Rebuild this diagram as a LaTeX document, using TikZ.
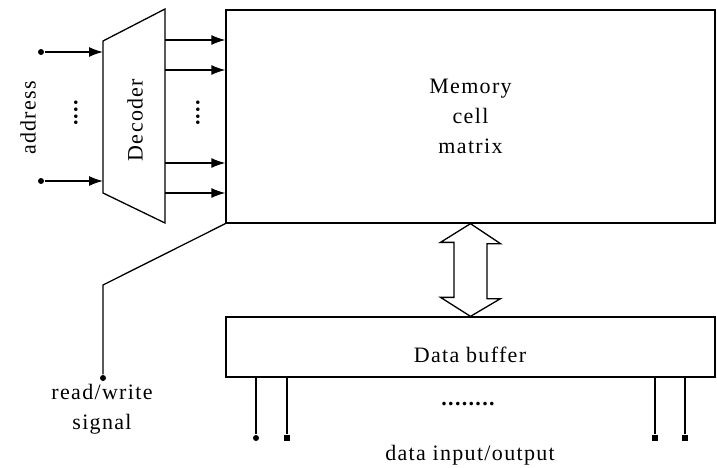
\documentclass[tikz,border=0pt]{standalone}
\usepackage{fontspec}
\setmainfont{Liberation Serif}[LetterSpace=6]
\usetikzlibrary{arrows.meta}
\begin{document}
\begin{tikzpicture}[x=1pt,y=-1pt,line width=1.3pt,
    lbl/.style={font=\fontsize{22}{30}\selectfont,inner sep=0pt,align=center},
    dots/.style={font=\fontsize{22}{30}\selectfont\bfseries,inner sep=0pt},
    wire/.style={-{Latex[length=14pt,width=10pt]}},
    pin/.style={circle,fill=black,inner sep=0pt,minimum size=6pt},
    sqpin/.style={rectangle,fill=black,inner sep=0pt,minimum size=6pt}]
  \useasboundingbox (0,0) rectangle (717,468);
  \node[draw,lbl,minimum width=489pt,minimum height=213pt] (mem) at (470.5,116.5) {Memory\\cell\\matrix};
  \node[draw,minimum width=489pt,minimum height=60pt,inner sep=0pt] (buf) at (470.5,347) {};
  \node[lbl]                (buft)  at (470,355)  {Data buffer};
  % decoder outline
  \coordinate (dec1) at (103,41);
  \coordinate (dec2) at (165,9);
  \coordinate (dec3) at (165,223);
  \coordinate (dec4) at (103,193);
  \draw (dec1) -- (dec2) -- (dec3) -- (dec4) -- cycle;
  \node[lbl,rotate=90]      (dect)  at (135,120)  {Decoder};
  % address lines
  \node[lbl,rotate=90]      (addr)  at (28,118)   {address};
  \node[dots,rotate=90]     (adots) at (76,113)   {....};
  \node[pin]                (a1)    at (41,52)    {};
  \node[pin]                (a2)    at (41,181)   {};
  \draw[wire]               (a1) -- (a1 -| dec1);
  \draw[wire]               (a2) -- (a2 -| dec1);
  % word lines into the matrix
  \foreach \y [count=\i] in {40,70,163,193} {
    \coordinate (w\i) at (165,\y);
    \draw[wire] (w\i) -- (w\i -| mem.west);
  }
  \node[dots,rotate=90]     (wdots) at (198,113)  {....};
  % read/write signal
  \coordinate (rwk) at (103,285);
  \node[pin]                (rw)    at (103,378)  {};
  \node[lbl]                (rwt)   at (102,409)  {read/write\\signal};
  \draw (mem.south west) -- (rwk) -- (rw);
  % data path between matrix and buffer
  \draw (mem.south) -- ++(30,20) -- ++(-13.5,0) -- ++(0,55) -- ++(13.5,0) -- (buf.north)
        -- ++(-30,-19) -- ++(13.5,0) -- ++(0,-55) -- ++(-13.5,0) -- cycle;
  % data pins
  \foreach \x/\s [count=\i] in {256/pin,287/sqpin,655/sqpin,685/sqpin} {
    \node[\s] (io\i) at (\x,438) {};
    \draw (io\i) -- (io\i |- buf.south);
  }
  \node[dots]               (iodots) at (468,404) {........};
  \node[lbl]                (iot)    at (470,455) {data input/output};
\end{tikzpicture}
\end{document}
